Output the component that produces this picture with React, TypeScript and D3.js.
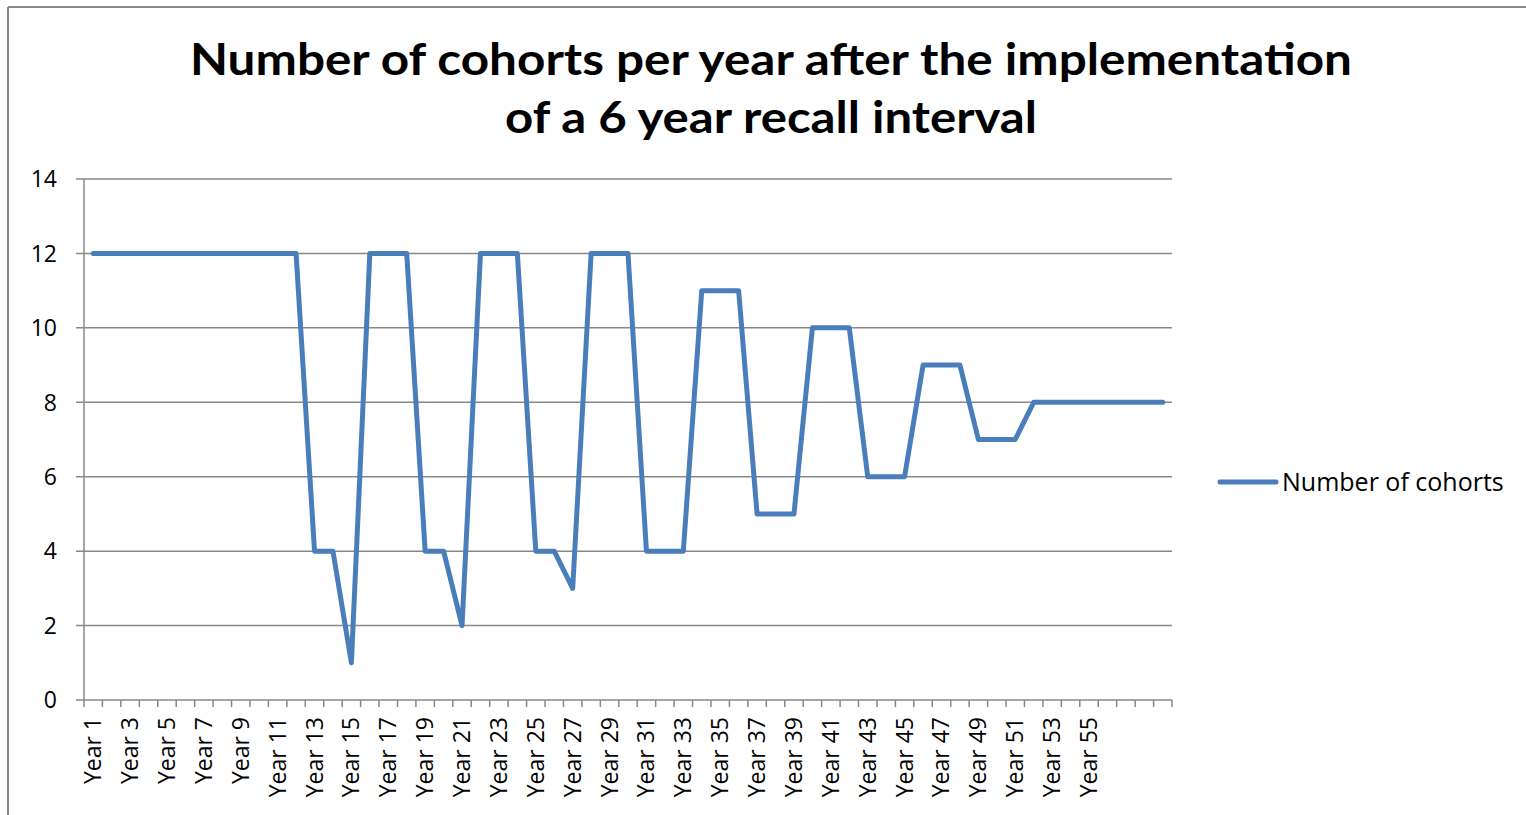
import React from "react";
import * as d3 from "d3";

const years: string[] = Array.from({ length: 59 }, (_, i) => `Year ${i + 1}`);
const cohorts: number[] = [
  12, 12, 12, 12, 12, 12, 12, 12, 12, 12, 12, 12,
  4, 4, 1, 12, 12, 12,
  4, 4, 2, 12, 12, 12,
  4, 4, 3, 12, 12, 12,
  4, 4, 4, 11, 11, 11,
  5, 5, 5, 10, 10, 10,
  6, 6, 6, 9, 9, 9,
  7, 7, 7, 8, 8, 8, 8, 8, 8, 8, 8,
];
const tickLabels: string[] = [
  "Year 1", "Year 3", "Year 5", "Year 7", "Year 9", "Year 11", "Year 13", "Year 15",
  "Year 17", "Year 19", "Year 21", "Year 23", "Year 25", "Year 27", "Year 29", "Year 31",
  "Year 33", "Year 35", "Year 37", "Year 39", "Year 41", "Year 43", "Year 45", "Year 47",
  "Year 49", "Year 51", "Year 53", "Year 55",
];
const yTicks: number[] = [0, 2, 4, 6, 8, 10, 12, 14];
const titleLines: string[] = [
  "Number of cohorts per year after the implementation",
  "of a 6 year recall interval",
];
const seriesName = "Number of cohorts";

const W = 1526;
const H = 815;
const plot = { left: 84, right: 1172, top: 179, bottom: 700 };
const TITLE_FONT = "Lato, 'Open Sans', sans-serif";
const FONT = "'Open Sans', Lato, sans-serif";
const GRID = "#888888";
const LINE = "#4a7ebb";

export default function App() {
  const x = d3.scaleBand<string>().domain(years).range([plot.left, plot.right]).padding(0);
  const y = d3.scaleLinear().domain([0, 14]).range([plot.bottom, plot.top]);
  const cx = (c: string) => (x(c) as number) + x.bandwidth() / 2;

  const line = d3
    .line<number>()
    .x((_, i) => cx(years[i]))
    .y((d) => y(d));

  const boundaries = d3.range(years.length + 1).map((i) => plot.left + i * x.bandwidth());

  return (
    <svg
      width={W}
      height={H}
      style={{ position: "absolute", left: 0, top: 0, background: "#fff" }}
      fontFamily={FONT}
    >
      {/* outer frame */}
      <line x1={8} y1={7} x2={W} y2={7} stroke={GRID} strokeWidth={2} />
      <line x1={8} y1={7} x2={8} y2={H} stroke={GRID} strokeWidth={2} />

      {/* title */}
      <text x={771} y={75} textAnchor="middle" fontSize={44} fontWeight={700} fill="#000"
        fontFamily={TITLE_FONT} textLength={1162} lengthAdjust="spacingAndGlyphs">
        {titleLines[0]}
      </text>
      <text x={771} y={133} textAnchor="middle" fontSize={44} fontWeight={700} fill="#000"
        fontFamily={TITLE_FONT} textLength={532} lengthAdjust="spacingAndGlyphs">
        {titleLines[1]}
      </text>

      {/* gridlines + y ticks */}
      {yTicks.map((t) => (
        <g key={t}>
          <line x1={76} x2={plot.right} y1={y(t)} y2={y(t)} stroke={GRID} strokeWidth={1.5} />
          <text x={57} y={y(t)} dy="0.36em" textAnchor="end" fontSize={23} fill="#000">
            {t}
          </text>
        </g>
      ))}

      {/* y axis line */}
      <line x1={plot.left} x2={plot.left} y1={plot.top} y2={plot.bottom} stroke={GRID} strokeWidth={1.5} />

      {/* x ticks */}
      {boundaries.map((bx, i) => (
        <line key={i} x1={bx} x2={bx} y1={plot.bottom} y2={plot.bottom + 7} stroke={GRID} strokeWidth={1.5} />
      ))}

      {/* x labels */}
      {tickLabels.map((lab) => (
        <text
          key={lab}
          transform={`translate(${cx(lab) + 8},${717}) rotate(-90)`}
          textAnchor="end"
          fontSize={23}
          fill="#000"
        >
          {lab}
        </text>
      ))}

      {/* series */}
      <path d={line(cohorts) || ""} fill="none" stroke={LINE} strokeWidth={5}
        strokeLinejoin="round" strokeLinecap="round" />

      {/* legend */}
      <line x1={1220} x2={1276} y1={482} y2={482} stroke={LINE} strokeWidth={5} strokeLinecap="round" />
      <text x={1282} y={482} dy="0.36em" fontSize={25} fill="#000">
        {seriesName}
      </text>
    </svg>
  );
}
